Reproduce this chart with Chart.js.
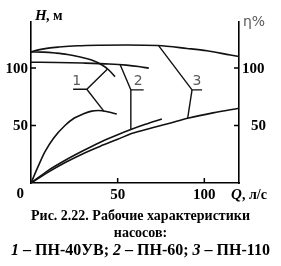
<!DOCTYPE html>
<html>
<head>
<meta charset="utf-8">
<script src="https://cdn.jsdelivr.net/npm/chart.js@4/dist/chart.umd.min.js"></script>
<style>
  body  { margin:0 ; background:#ffffff ; }
  #wrap { position:relative ; width:281px ; height:266px ; }
  .cap  { position:absolute ; left:0 ; width:281px ; text-align:center ; white-space:nowrap ;
          font-family:"Liberation Serif", serif ; font-weight:bold ; color:#000000 ; }
</style>
</head>
<body>
<div id="wrap">
  <canvas id="pumpGraph" width="281" height="266"></canvas>
  <div class="cap" style="top:208px;font-size:14px">Рис. 2.22. Рабочие характеристики</div>
  <div class="cap" style="top:225px;font-size:14px">насосов:</div>
  <div class="cap" style="top:241px;font-size:16px"><i>1</i> – ПН-40УВ; <i>2</i> – ПН-60; <i>3</i> – ПН-110</div>
</div>
<script>
    const AXIS_COLOR   = '#000000' ;
    const CURVE_COLOR  = '#111111' ;
    const LABEL_COLOR  = '#5a5a5a' ;
    const NUM_FONT     = 'bold 15px "Liberation Serif"' ;
    const Q_MAX        = 120 ;
    const Y_MAX        = 140 ;

    // ---------------- Curve data (Q, л/с -> H, м / η, %) -------------------
    const flowH1 = [ 0, 7, 14, 21, 27, 35, 41, 44.7, 48.5 ] ;
    const headH1 = [ 114, 113.8, 113, 111.8, 110, 107, 102.6, 98.5, 92.5 ] ;

    const flowH2 = [ 0, 15, 30, 45, 55, 62, 68 ] ;
    const headH2 = [ 105, 104.8, 104.3, 103.5, 102.5, 101.3, 99.8 ] ;

    const flowH3 = [ 0, 5, 10, 16, 27, 40, 55, 73, 90, 101.5, 115, 120 ] ;
    const headH3 = [ 114, 116, 117.3, 118.2, 119.3, 119.8, 120, 119.5, 117, 115, 111.3, 110 ] ;

    const flowE1 = [ 0, 4, 8, 13, 19.6, 25, 30, 35, 39, 44, 49.5 ] ;
    const effE1  = [ 0, 14, 27, 39, 50, 56.5, 60, 62.5, 63, 62, 60 ] ;

    const flowE2 = [ 0, 10, 20, 30, 40, 50, 58, 66, 75.5 ] ;
    const effE2  = [ 0, 11, 20, 28, 35.5, 42, 46.7, 51, 55.7 ] ;

    const flowE3 = [ 0, 10, 20, 30, 40, 50, 58, 70, 80, 91, 105, 120 ] ;
    const effE3  = [ 0, 9.5, 18, 25.5, 32, 38, 43, 48, 52, 56.5, 61, 65 ] ;

    // ---------------- Label leaders ----------------------------------------
    const lead1aX = [ 24.3, 32.2, 44 ] ;   const lead1aY = [ 81.5, 81.5, 99 ] ;
    const lead1bX = [ 32.2, 42 ] ;         const lead1bY = [ 81.5, 62.5 ] ;
    const lead2aX = [ 51.4, 57.6, 65 ] ;   const lead2aY = [ 103, 81, 81 ] ;
    const lead2bX = [ 57.6, 57.6 ] ;       const lead2bY = [ 81, 46.8 ] ;
    const lead3aX = [ 73.6, 92.9, 98.7 ] ; const lead3aY = [ 119.5, 81, 81 ] ;
    const lead3bX = [ 92.9, 90.4 ] ;       const lead3bY = [ 81, 56.5 ] ;

    const labelText = [ '1', '2', '3' ] ;
    const labelQ    = [ 26.4, 61.8, 95.8 ] ;
    const labelV    = [ 88, 88, 88 ] ;

    // ---------------- Tick labels ------------------------------------------
    const xTicks      = [ 50, 100 ] ;
    const yTicks      = [ 50, 100 ] ;
    const yRightTicks = [ 50, 100 ] ;

    // -----------------------------------------------------------------------
    function toPoints( xs, ys ) {
        return xs.map( function( x, i ) { return { x: x, y: ys[i] } ; } ) ;
    }

    function curve( xs, ys ) {
        return {
            type                   : 'line',
            data                   : toPoints( xs, ys ),
            borderColor            : CURVE_COLOR,
            borderWidth            : 1.6,
            pointRadius            : 0,
            cubicInterpolationMode : 'monotone',
            fill                   : false,
        } ;
    }

    function leader( xs, ys ) {
        return {
            type        : 'line',
            data        : toPoints( xs, ys ),
            borderColor : CURVE_COLOR,
            borderWidth : 1.4,
            pointRadius : 0,
            tension     : 0,
            fill        : false,
        } ;
    }

    function axisOpts( position ) {
        return {
            type     : 'linear',
            position : position,
            min      : 0,
            max      : ( position == 'bottom' ) ? Q_MAX : Y_MAX,
            grid     : { display: false, drawTicks: false },
            ticks    : { display: false },
            border   : { display: true, color: AXIS_COLOR, width: 1.6 },
        } ;
    }

    const decorPlugin = {
        id : 'decor',
        afterDraw : function( chart ) {
            const ctx = chart.ctx ;
            const xs  = chart.scales.x ;
            const ys  = chart.scales.y ;
            const ca  = chart.chartArea ;

            ctx.save() ;
            ctx.strokeStyle = AXIS_COLOR ;
            ctx.lineWidth = 1.5 ;

            // inside tick marks
            ctx.beginPath() ;
            xTicks.forEach( function( v ) {
                const px = xs.getPixelForValue( v ) ;
                ctx.moveTo( px, ca.bottom ) ; ctx.lineTo( px, ca.bottom - 5 ) ;
            } ) ;
            yTicks.forEach( function( v ) {
                const py = ys.getPixelForValue( v ) ;
                ctx.moveTo( ca.left, py ) ; ctx.lineTo( ca.left + 5, py ) ;
            } ) ;
            yRightTicks.forEach( function( v ) {
                const py = ys.getPixelForValue( v ) ;
                ctx.moveTo( ca.right, py ) ; ctx.lineTo( ca.right - 5, py ) ;
            } ) ;
            ctx.stroke() ;

            // tick labels
            ctx.fillStyle = '#000000' ;
            ctx.font = NUM_FONT ;
            ctx.textBaseline = 'middle' ;
            ctx.textAlign = 'right' ;
            yTicks.forEach( function( v ) {
                ctx.fillText( String( v ), ca.left - 3, ys.getPixelForValue( v ) + 1 ) ;
            } ) ;
            ctx.fillText( '0', ca.left - 7, ca.bottom + 11 ) ;
            ctx.textAlign = 'center' ;
            xTicks.forEach( function( v ) {
                ctx.fillText( String( v ), xs.getPixelForValue( v ), ca.bottom + 12 ) ;
            } ) ;
            ctx.textAlign = 'left' ;
            yRightTicks.forEach( function( v ) {
                const off = ( v < 100 ) ? 12 : 3 ;
                ctx.fillText( String( v ), ca.right + off, ys.getPixelForValue( v ) + 1 ) ;
            } ) ;

            // axis titles
            ctx.font = 'bold italic 15px "Liberation Serif"' ;
            ctx.fillText( 'H', ca.left + 4, ca.top - 6 ) ;
            ctx.font = 'bold 14px "Liberation Serif"' ;
            ctx.fillText( ', м', ca.left + 15, ca.top - 6 ) ;
            ctx.font = 'bold italic 15px "Liberation Serif"' ;
            ctx.fillText( 'Q', ca.right - 8, ca.bottom + 12 ) ;
            ctx.font = 'bold 14px "Liberation Serif"' ;
            ctx.fillText( ', л/с', ca.right + 3, ca.bottom + 12 ) ;
            ctx.fillStyle = LABEL_COLOR ;
            ctx.font = '14px "DejaVu Sans"' ;
            ctx.fillText( 'η%', ca.right + 4, ca.top ) ;

            // curve labels
            ctx.font = '14px "DejaVu Sans"' ;
            ctx.textAlign = 'center' ;
            labelText.forEach( function( t, i ) {
                ctx.fillText( t, xs.getPixelForValue( labelQ[i] ), ys.getPixelForValue( labelV[i] ) ) ;
            } ) ;
            ctx.restore() ;
        }
    } ;

    const data = {
        datasets : [
            curve( flowH1, headH1 ),
            curve( flowH2, headH2 ),
            curve( flowH3, headH3 ),
            curve( flowE1, effE1 ),
            curve( flowE2, effE2 ),
            curve( flowE3, effE3 ),
            leader( lead1aX, lead1aY ),
            leader( lead1bX, lead1bY ),
            leader( lead2aX, lead2aY ),
            leader( lead2bX, lead2bY ),
            leader( lead3aX, lead3aY ),
            leader( lead3bX, lead3bY ),
        ]
    } ;

    const options = {
        responsive : false,
        animation  : false,
        layout     : { padding: { left: 31, right: 42, top: 22, bottom: 83 } },
        plugins    : {
            legend  : { display: false },
            tooltip : { enabled: false },
        },
        scales : {
            x  : axisOpts( 'bottom' ),
            y  : axisOpts( 'left' ),
            y2 : axisOpts( 'right' ),
        }
    } ;

    new Chart( document.getElementById( 'pumpGraph' ), {
        type    : 'line',
        data    : data,
        options : options,
        plugins : [ decorPlugin ]
    } ) ;
</script>
</body>
</html>
